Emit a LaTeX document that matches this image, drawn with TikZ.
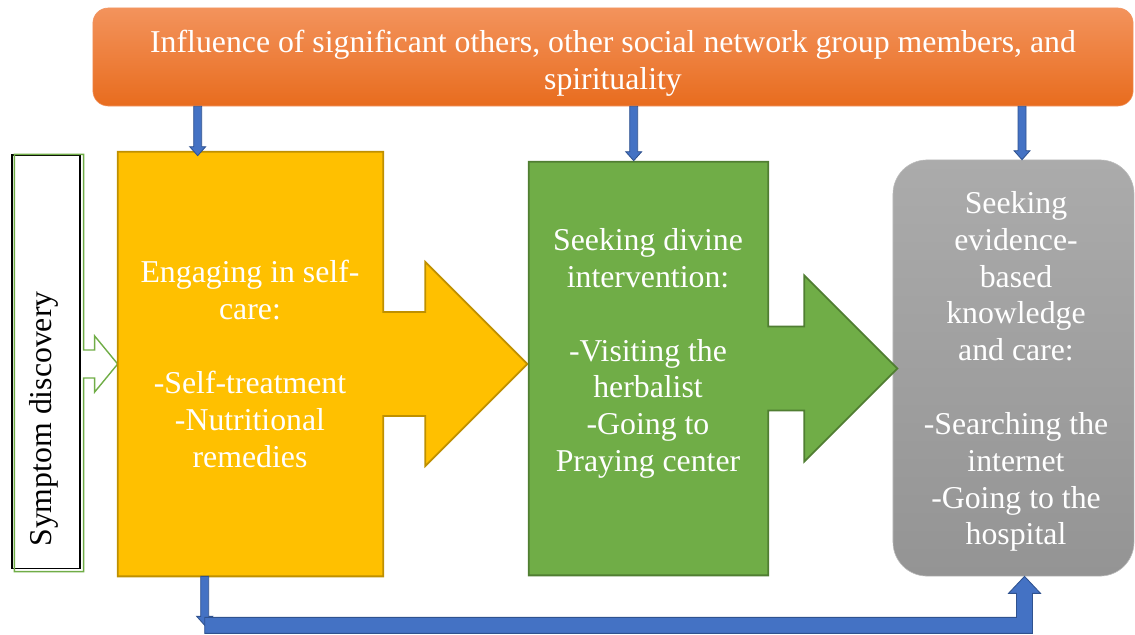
\documentclass[tikz,border=0pt]{standalone}
\usepackage{fontspec}
\setmainfont{Liberation Serif}
\usetikzlibrary{positioning,calc}
\definecolor{orgT}{RGB}{243,147,92}
\definecolor{orgB}{RGB}{232,108,30}
\definecolor{orgL}{RGB}{241,150,100}
\definecolor{yelF}{RGB}{255,192,0}
\definecolor{yelD}{RGB}{191,144,0}
\definecolor{grnF}{RGB}{112,173,71}
\definecolor{grnD}{RGB}{80,126,50}
\definecolor{gryT}{RGB}{171,171,171}
\definecolor{gryB}{RGB}{148,148,148}
\definecolor{bluF}{RGB}{68,114,196}
\definecolor{bluD}{RGB}{47,82,143}
\tikzset{
  banner/.style ={rectangle, rounded corners=0.38cm, draw=orgL, top color=orgT, bottom color=orgB, minimum width=26cm, minimum height=2.45cm, inner sep=0pt},
  symp/.style   ={rectangle, draw=black, line width=0.8pt, minimum width=1.7cm, minimum height=10.325cm, inner sep=0pt},
  stage/.style  ={rectangle, draw=none, inner sep=0pt},
  evid/.style   ={rectangle, rounded corners=0.85cm, draw=gryT!80!white, top color=gryT, bottom color=gryB, minimum width=6.025cm, minimum height=10.4cm, inner sep=0pt},
  txt/.style    ={font=\fontsize{22.6}{26.2}\selectfont, align=center, text=white, inner sep=0pt},
  stxt/.style   ={font=\fontsize{22.6}{26.2}\selectfont, text=black, inner sep=0pt},
  yelarr/.style ={fill=yelF, draw=yelD, line width=1.3pt, line join=miter},
  grnarr/.style ={fill=grnF, draw=grnD, line width=1.3pt, line join=miter},
  symarr/.style ={draw=grnF, line width=1pt},
  blk/.style    ={fill=bluF, draw=bluD, line width=0.6pt},
}
\begin{document}
\begin{tikzpicture}[x=0.025cm, y=-0.025cm]
\useasboundingbox (0,0) rectangle (1135,634);
%% ---------- influence banner (top) ----------
\node[banner] (infl) at (613,57) {};
\node[txt] (inflt) at (613,63) {Influence of significant others, other social network group members, and\\spirituality};
%% ---------- care stages ----------
\node[symp]  (sym)  at (46,361.5) {};
\node[stage, minimum width=6.625cm, minimum height=10.6cm]  (self) at (250.5,364) {};
\node[stage, minimum width=5.975cm, minimum height=10.325cm] (div) at (648.5,368.5) {};
\node[evid]  (evid) at (1013.5,368) {};
% block arrows round the stage boxes
\coordinate (sj) at (sym.east |- self.west);
\draw[symarr] ($(sym.north west)+(3,0)$) -- ($(sym.north east)+(3,0)$) -- ($(sj)+(3,-14)$)
  -- ($(self.west)+(-23,-14)$) -- ($(self.west)+(-23,-28)$) -- (self.west)
  -- ($(self.west)+(-23,28)$) -- ($(self.west)+(-23,14)$) -- ($(sj)+(3,14)$)
  -- ($(sym.south east)+(3,3)$) -- ($(sym.south west)+(3,3)$) -- cycle;
\draw[yelarr] (self.north west) -- (self.north east) -- ($(self.east)+(0,-52)$)
  -- ($(self.east)+(42,-52)$) -- ($(self.east)+(42,-102)$) -- ($(self.east)+(144,0)$)
  -- ($(self.east)+(42,102)$) -- ($(self.east)+(42,52)$) -- ($(self.east)+(0,52)$)
  -- (self.south east) -- (self.south west) -- cycle;
\draw[grnarr] (div.north west) -- (div.north east) -- ($(div.east)+(0,-42)$)
  -- ($(div.east)+(36,-42)$) -- ($(div.east)+(36,-93)$) -- ($(div.east)+(129,0)$)
  -- ($(div.east)+(36,93)$) -- ($(div.east)+(36,42)$) -- ($(div.east)+(0,42)$)
  -- (div.south east) -- (div.south west) -- cycle;
% stage texts
\node[stxt, rotate=90] (symt) at (44,419) {Symptom discovery};
\node[txt] (selft) at (250,364) {Engaging in self-\\care:\\[26.2pt]-Self-treatment\\-Nutritional\\remedies};
\node[txt] (divt) at (648,353.5) {Seeking divine\\intervention:\\[26.2pt]-Visiting the\\herbalist\\-Going to\\Praying center};
\node[txt] (evidt) at (1016,371.5) {Seeking\\evidence-\\based\\knowledge\\and care:\\[26.2pt]-Searching the\\internet\\-Going to the\\hospital};
%% ---------- influence arrows ----------
\coordinate (a1) at ($(self.north west)+(80,4)$);
\coordinate (a2) at ($(div.north west)+(105,-1)$);
\coordinate (a3) at ($(evid.north)+(8.5,0)$);
\coordinate (a1t) at (infl.south -| a1);
\coordinate (a2t) at (infl.south -| a2);
\coordinate (a3t) at (infl.south -| a3);
\filldraw[blk] ($(a1t)+(-4,0)$) -- ($(a1)+(-4,-9)$) -- ($(a1)+(-8,-9)$) -- (a1) -- ($(a1)+(8,-9)$) -- ($(a1)+(4,-9)$) -- ($(a1t)+(4,0)$) -- cycle;
\filldraw[blk] ($(a2t)+(-4,0)$) -- ($(a2)+(-4,-9)$) -- ($(a2)+(-8,-9)$) -- (a2) -- ($(a2)+(8,-9)$) -- ($(a2)+(4,-9)$) -- ($(a2t)+(4,0)$) -- cycle;
\filldraw[blk] ($(a3t)+(-4,0)$) -- ($(a3)+(-4,-9)$) -- ($(a3)+(-8,-9)$) -- (a3) -- ($(a3)+(8,-9)$) -- ($(a3)+(4,-9)$) -- ($(a3t)+(4,0)$) -- cycle;
%% ---------- self-care straight to evidence-based care ----------
\coordinate (b1t) at ($(self.south west)+(87,0)$);
\coordinate (b1) at ($(b1t)+(0,49)$);
\coordinate (c1) at ($(b1t)+(0,41)$);
\coordinate (c2) at ($(evid.south)+(11,0)$);
\filldraw[blk] ($(b1t)+(-4,0)$) -- ($(b1)+(-4,-9)$) -- ($(b1)+(-8,-9)$) -- (b1) -- ($(b1)+(8,-9)$) -- ($(b1)+(4,-9)$) -- ($(b1t)+(4,0)$) -- cycle;
\filldraw[blk] (c1) -- ($(c2)+(-8,41)$) -- ($(c2)+(-8,17)$) -- ($(c2)+(-16,17)$) -- (c2)
  -- ($(c2)+(16,17)$) -- ($(c2)+(8,17)$) -- ($(c2)+(8,57)$) -- ($(c1)+(0,16)$) -- cycle;
\end{tikzpicture}
\end{document}
